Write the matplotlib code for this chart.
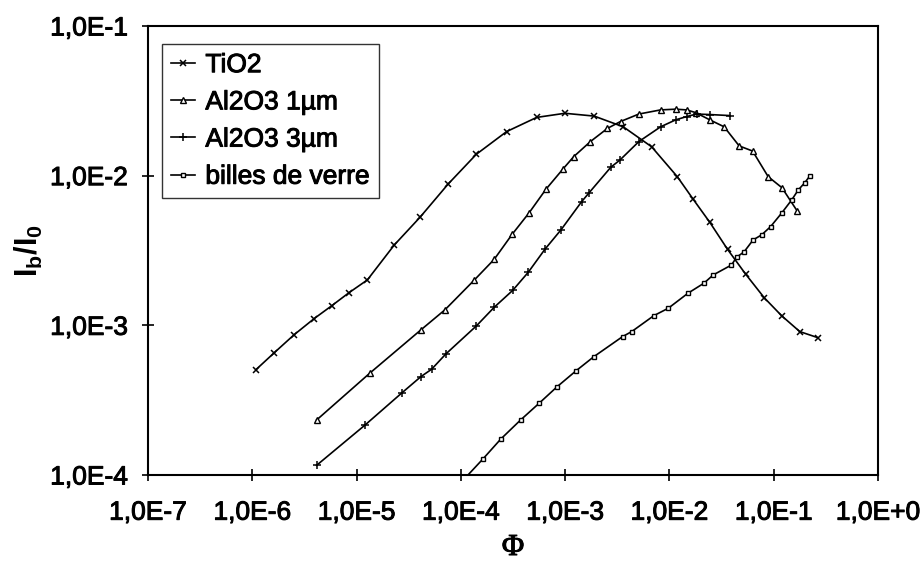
import numpy as np
import matplotlib.pyplot as plt
import matplotlib.patheffects as pe
from matplotlib.ticker import FixedLocator, NullLocator

# TiO2
phi_tio2 = [1.08e-6, 1.63e-6, 2.51e-6, 3.93e-6, 5.77e-6, 8.45e-6, 1.27e-5, 2.30e-5,
            4.06e-5, 7.57e-5, 1.41e-4, 2.75e-4, 5.34e-4, 9.95e-4, 1.90e-3, 3.61e-3,
            6.75e-3, 1.19e-2, 1.69e-2, 2.44e-2, 3.61e-2, 5.38e-2, 8.11e-2, 0.119,
            0.178, 0.264]
ib_tio2 = [5.04e-4, 6.57e-4, 8.63e-4, 1.11e-3, 1.35e-3, 1.65e-3, 2.01e-3, 3.44e-3,
           5.27e-3, 8.80e-3, 1.39e-2, 1.97e-2, 2.45e-2, 2.61e-2, 2.50e-2, 2.12e-2,
           1.56e-2, 9.85e-3, 6.96e-3, 4.88e-3, 3.22e-3, 2.20e-3, 1.53e-3, 1.16e-3,
           9.08e-4, 8.28e-4]

# Al2O3 1 um
phi_al1 = [4.14e-6, 1.34e-5, 4.14e-5, 7.05e-5, 1.34e-4, 2.09e-4, 3.11e-4, 4.53e-4,
           6.55e-4, 9.46e-4, 1.21e-3, 1.75e-3, 2.55e-3, 3.40e-3, 5.10e-3, 8.24e-3,
           1.15e-2, 1.46e-2, 1.78e-2, 2.44e-2, 3.35e-2, 4.67e-2, 6.28e-2, 8.85e-2,
           0.120, 0.168]
ib_al1 = [2.33e-4, 4.79e-4, 9.32e-4, 1.27e-3, 2.00e-3, 2.76e-3, 4.06e-3, 5.66e-3,
          8.11e-3, 1.10e-2, 1.34e-2, 1.69e-2, 2.07e-2, 2.30e-2, 2.58e-2, 2.75e-2,
          2.78e-2, 2.75e-2, 2.64e-2, 2.36e-2, 2.12e-2, 1.58e-2, 1.46e-2, 9.85e-3,
          8.31e-3, 5.81e-3]

# Al2O3 3 um
phi_al3 = [4.14e-6, 1.21e-5, 2.70e-5, 4.14e-5, 5.25e-5, 7.19e-5, 1.41e-4, 2.09e-4,
           3.14e-4, 4.43e-4, 6.40e-4, 9.12e-4, 1.44e-3, 1.70e-3, 2.75e-3, 3.35e-3,
           5.10e-3, 8.24e-3, 1.15e-2, 1.46e-2, 1.82e-2, 2.44e-2, 3.80e-2]
ib_al3 = [1.16e-4, 2.16e-4, 3.52e-4, 4.54e-4, 5.09e-4, 6.44e-4, 9.91e-4, 1.32e-3,
          1.71e-3, 2.26e-3, 3.22e-3, 4.34e-3, 6.70e-3, 7.69e-3, 1.14e-2, 1.27e-2,
          1.69e-2, 2.12e-2, 2.36e-2, 2.48e-2, 2.58e-2, 2.56e-2, 2.52e-2]

# billes de verre
phi_bv = [8.4e-5, 1.63e-4, 2.42e-4, 3.74e-4, 5.65e-4, 8.39e-4, 1.27e-3, 1.89e-3,
          3.56e-3, 4.35e-3, 7.09e-3, 9.75e-3, 1.51e-2, 2.14e-2, 2.63e-2, 3.94e-2,
          4.41e-2, 5.21e-2, 6.35e-2, 7.66e-2, 9.33e-2, 0.119, 0.149, 0.172, 0.199,
          0.222]
ib_bv = [7.8e-5, 1.28e-4, 1.74e-4, 2.33e-4, 3.02e-4, 3.89e-4, 4.96e-4, 6.18e-4,
         8.41e-4, 9.08e-4, 1.16e-3, 1.30e-3, 1.64e-3, 1.91e-3, 2.17e-3, 2.53e-3,
         2.85e-3, 3.10e-3, 3.72e-3, 4.02e-3, 4.56e-3, 5.61e-3, 6.89e-3, 8.02e-3,
         8.98e-3, 9.95e-3]

xticks = [1e-7, 1e-6, 1e-5, 1e-4, 1e-3, 1e-2, 1e-1, 1e0]
xlabels = ['1,0E-7', '1,0E-6', '1,0E-5', '1,0E-4', '1,0E-3', '1,0E-2', '1,0E-1', '1,0E+0']
yticks = [1e-4, 1e-3, 1e-2, 1e-1]
ylabels = ['1,0E-4', '1,0E-3', '1,0E-2', '1,0E-1']

plt.rcParams['font.family'] = ['Liberation Sans', 'DejaVu Sans']

# slightly heavier text strokes
heavy = [pe.withStroke(linewidth=0.7, foreground='black')]

fig = plt.figure(figsize=(9.23, 5.61), dpi=100)
ax = fig.add_axes([0.1603, 0.1533, 0.7909, 0.8004])

lw = 1.2
ax.plot(phi_tio2, ib_tio2, color='black', lw=lw, marker='x', ms=5, mew=1.1,
        label='TiO2')
ax.plot(phi_al1, ib_al1, color='black', lw=lw, marker='^', ms=4.5, mew=1.0,
        mfc='white', label='Al2O3 1µm')
ax.plot(phi_al3, ib_al3, color='black', lw=lw, marker='+', ms=6, mew=1.1,
        label='Al2O3 3µm')
ax.plot(phi_bv, ib_bv, color='black', lw=lw, marker='s', ms=3, mew=1.0,
        mfc='white', label='billes de verre')

ax.set_xscale('log')
ax.set_yscale('log')
ax.set_xlim(1e-7, 1)
ax.set_ylim(1e-4, 1e-1)

ax.xaxis.set_major_locator(FixedLocator(xticks))
ax.xaxis.set_minor_locator(NullLocator())
ax.yaxis.set_major_locator(FixedLocator(yticks))
ax.yaxis.set_minor_locator(NullLocator())
ax.set_xticklabels(xlabels)
ax.set_yticklabels(ylabels)

ax.tick_params(axis='both', direction='inout', length=9, width=1.2,
               labelsize=19, color='black')
ax.tick_params(axis='x', pad=14)
ax.tick_params(axis='y', pad=10)
for lab in ax.get_xticklabels() + ax.get_yticklabels():
    lab.set_path_effects(heavy)
for s in ax.spines.values():
    s.set_linewidth(1.5)

ax.set_xlabel('Φ', family=['Liberation Serif', 'DejaVu Serif'], fontsize=22,
              labelpad=6)
ax.xaxis.label.set_path_effects(heavy)
ax.set_ylabel(r'I$_\mathregular{b}$/I$_\mathregular{0}$', fontsize=22,
              fontweight='bold', labelpad=4)

leg = ax.legend(loc='upper left', bbox_to_anchor=(0.019, 0.96), fontsize=19,
                frameon=True, fancybox=False, edgecolor='black',
                handlelength=0.9, handletextpad=0.4, borderpad=0.35,
                labelspacing=0.5, borderaxespad=0)
leg.get_frame().set_linewidth(1.0)
for t in leg.get_texts():
    t.set_path_effects(heavy)

fig.savefig('out.png', dpi=100)
